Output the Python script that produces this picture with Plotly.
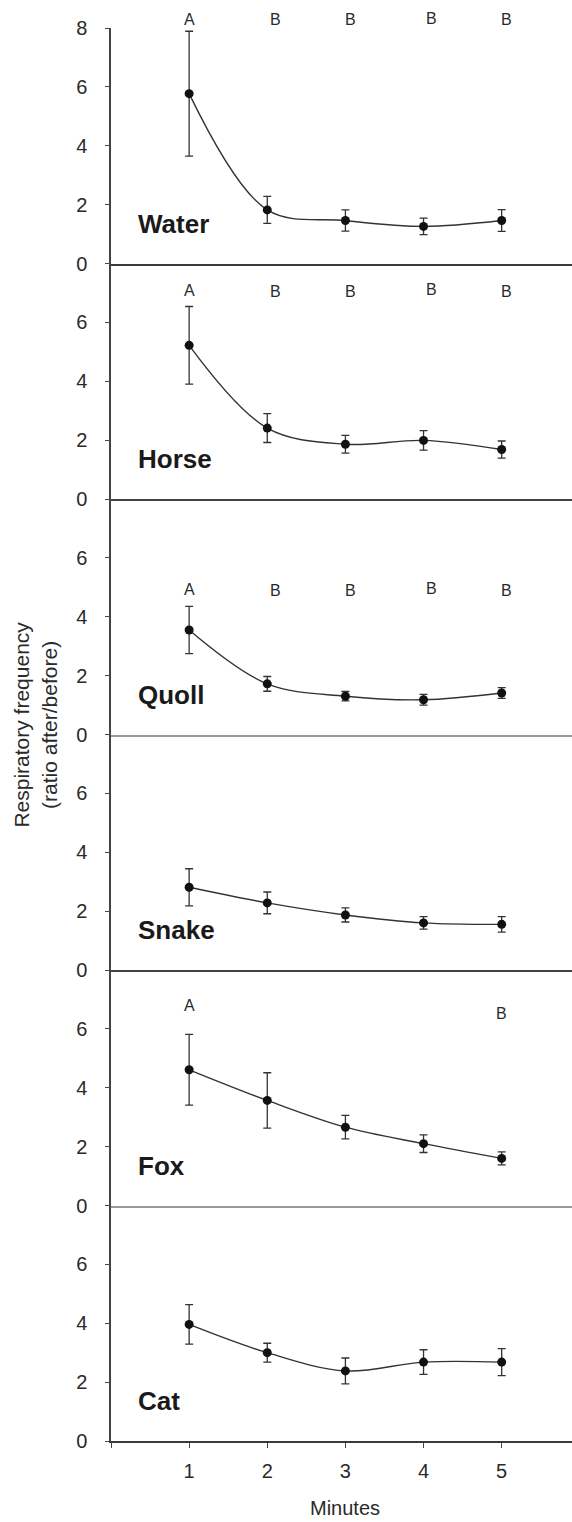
import plotly.graph_objects as go
from plotly.subplots import make_subplots

minutes = [1, 2, 3, 4, 5]
panels = ["Water", "Horse", "Quoll", "Snake", "Fox", "Cat"]

water_mean = [5.77, 1.82, 1.46, 1.26, 1.46]
water_err = [2.12, 0.46, 0.36, 0.28, 0.37]
horse_mean = [5.22, 2.41, 1.86, 1.99, 1.68]
horse_err = [1.32, 0.49, 0.30, 0.33, 0.29]
quoll_mean = [3.55, 1.72, 1.30, 1.18, 1.41]
quoll_err = [0.80, 0.25, 0.16, 0.18, 0.18]
snake_mean = [2.81, 2.28, 1.87, 1.60, 1.55]
snake_err = [0.63, 0.37, 0.24, 0.21, 0.26]
fox_mean = [4.61, 3.57, 2.66, 2.10, 1.60]
fox_err = [1.20, 0.94, 0.40, 0.30, 0.22]
cat_mean = [3.96, 3.00, 2.38, 2.68, 2.68]
cat_err = [0.67, 0.32, 0.44, 0.42, 0.46]

# significance letters per panel
water_letters = ["A", "B", "B", "B", "B"]
horse_letters = ["A", "B", "B", "B", "B"]
quoll_letters = ["A", "B", "B", "B", "B"]
snake_letters = []
fox_letters = ["A", "", "", "", "B"]
cat_letters = []

x_ticks = [0, 1, 2, 3, 4, 5]
x_ticktext = ["", "1", "2", "3", "4", "5"]

means = [water_mean, horse_mean, quoll_mean, snake_mean, fox_mean, cat_mean]
errs = [water_err, horse_err, quoll_err, snake_err, fox_err, cat_err]
letters = [water_letters, horse_letters, quoll_letters, snake_letters, fox_letters, cat_letters]

# layout-only: letter placement (x offsets and heights as fraction of panel height)
letter_x = [1.0, 2.1, 3.07, 4.1, 5.06]
letter_frac = [
    [1.038, 1.034, 1.034, 1.042, 1.034],
    [0.885, 0.881, 0.881, 0.888, 0.881],
    [0.616, 0.612, 0.612, 0.620, 0.612],
    None,
    [0.849, None, None, None, 0.817],
    None,
]
fox_letter_x = [1.0, None, None, None, 5.0]
zero_line_color = ["#3a3a3a", "#444444", "#999999", "#444444", "#999999", "#3a3a3a"]

FONT = "Liberation Sans, Arial, sans-serif"
INK = "#2a2a2a"

fig = make_subplots(rows=6, cols=1, shared_xaxes=True, vertical_spacing=0)

for i, (m, e) in enumerate(zip(means, errs)):
    r = i + 1
    fig.add_trace(go.Scatter(
        x=minutes, y=m, mode="lines+markers",
        line=dict(color="#333333", width=1.4, shape="spline", smoothing=1.0),
        marker=dict(color="#111111", size=9),
        error_y=dict(type="data", array=e, visible=True, color="#333333",
                     thickness=1.3, width=4),
        showlegend=False,
    ), row=r, col=1)

    xa = "x" if r == 1 else f"x{r}"
    ya = "y" if r == 1 else f"y{r}"
    # panel label
    fig.add_annotation(x=0.32, y=1.35, xref=xa, yref=ya, text=f"<b>{panels[i]}</b>",
                       showarrow=False, xanchor="left", yanchor="middle",
                       font=dict(family=FONT, size=26, color="#1a1a1a"))
    # letters
    if letters[i]:
        xs = fox_letter_x if panels[i] == "Fox" else letter_x
        for j, lt in enumerate(letters[i]):
            if lt:
                fig.add_annotation(x=xs[j], y=letter_frac[i][j], xref=xa,
                                   yref=f"{ya} domain", text=lt,
                                   showarrow=False, xanchor="center", yanchor="middle",
                                   font=dict(family=FONT, size=16, color=INK))

    yvals = [0, 2, 4, 6, 8] if r == 1 else [0, 2, 4, 6]
    fig.update_yaxes(range=[0, 8], tickvals=yvals, ticktext=[str(v) for v in yvals],
                     showline=True, linecolor="#444444", linewidth=1.5,
                     ticks="outside", ticklen=4, tickcolor="#444444", tickwidth=1.2,
                     showgrid=False, zeroline=False, ticklabelstandoff=14,
                     tickfont=dict(family=FONT, size=20, color=INK),
                     row=r, col=1)
    fig.update_xaxes(range=[0, 5.9], showline=True, linecolor=zero_line_color[i],
                     linewidth=1.5,
                     showgrid=False, zeroline=False, row=r, col=1,
                     tickvals=x_ticks, ticktext=x_ticktext,
                     ticks="outside" if r == 6 else "", ticklen=5, tickcolor="#444444",
                     tickwidth=1.2, showticklabels=(r == 6), ticklabelstandoff=6,
                     tickfont=dict(family=FONT, size=20, color=INK))

fig.add_annotation(x=0, y=0.507, xref="paper", yref="paper", xshift=-76,
                   text="Respiratory frequency<br>(ratio after/before)", textangle=-90,
                   showarrow=False, xanchor="center", yanchor="middle",
                   font=dict(family=FONT, size=21, color=INK))
fig.add_annotation(x=3, y=0, xref="x6", yref="paper", yshift=-67,
                   text="Minutes", showarrow=False, xanchor="center", yanchor="middle",
                   font=dict(family=FONT, size=20, color=INK))

fig.update_layout(width=572, height=1522, margin=dict(l=111, r=0, t=28, b=81),
                  plot_bgcolor="white", paper_bgcolor="white")

fig.write_html("out.html")
